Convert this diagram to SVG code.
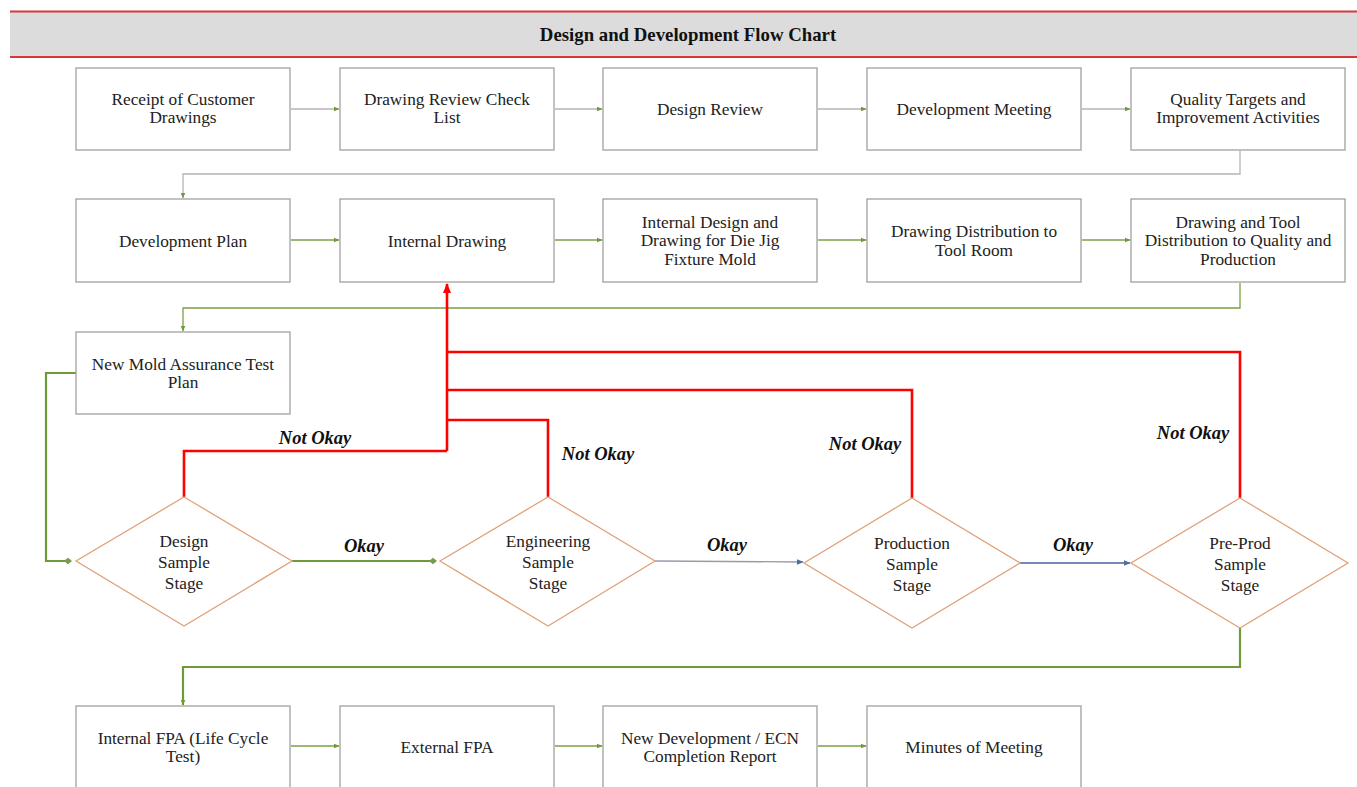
<svg xmlns="http://www.w3.org/2000/svg" width="1357" height="787" viewBox="0 0 1357 787">
  <defs>
    <marker id="arrGreen" viewBox="0 0 10 10" refX="9" refY="5" markerWidth="6" markerHeight="6" orient="auto-start-reverse" markerUnits="userSpaceOnUse">
      <path d="M0,1 L10,5 L0,9 z" fill="#6f9a3a"/>
    </marker>
    <marker id="arrBlue" viewBox="0 0 10 10" refX="9" refY="5" markerWidth="7" markerHeight="7" orient="auto" markerUnits="userSpaceOnUse">
      <path d="M0,1 L10,5 L0,9 z" fill="#4a6fa8"/>
    </marker>
    <marker id="arrRed" viewBox="0 0 10 10" refX="9" refY="5" markerWidth="10" markerHeight="10" orient="auto" markerUnits="userSpaceOnUse">
      <path d="M0,1 L10,5 L0,9 z" fill="#ff0000"/>
    </marker>
    <marker id="dotGreen" viewBox="0 0 10 10" refX="5" refY="5" markerWidth="8" markerHeight="8" orient="auto" markerUnits="userSpaceOnUse">
      <path d="M0,5 L5,1 L10,5 L5,9 z" fill="#7a9a50"/>
    </marker>
  </defs>
  <style>
    .box { fill: #ffffff; stroke: #a0a0a0; stroke-width: 1.3; }
    .dia { fill: #ffffff; stroke: #e0a27a; stroke-width: 1.3; }
    .lbl { font-family: "Liberation Serif", "Times New Roman", serif; font-size: 17.3px; fill: #222; text-anchor: middle; }
    .cond { font-family: "Liberation Serif", "Times New Roman", serif; font-size: 18.5px; font-weight: bold; font-style: italic; fill: #111; text-anchor: middle; }
    .gray { fill: none; stroke: #b4b4b4; stroke-width: 1.3; }
    .green { fill: none; stroke: #7ba046; stroke-width: 1.3; }
    .greenBold { fill: none; stroke: #6f9a3a; stroke-width: 2.2; }
    .red { fill: none; stroke: #ff0000; stroke-width: 2.6; }
  </style>

  <rect width="1357" height="787" fill="#ffffff"/>

  <!-- title band -->
  <g id="title">
    <rect x="10" y="12" width="1347" height="45" fill="#dcdcdc"/>
    <line x1="10" y1="11.5" x2="1357" y2="11.5" stroke="#d9363e" stroke-width="2"/>
    <line x1="10" y1="57" x2="1357" y2="57" stroke="#d9363e" stroke-width="2"/>
    <text x="688" y="41" font-family="Liberation Serif, 'Times New Roman', serif" font-size="18.8" font-weight="bold" fill="#111" text-anchor="middle">Design and Development Flow Chart</text>
  </g>

  <!-- connectors -->
  <g id="connectors">
    <!-- row 1 -->
    <line class="gray" x1="291" y1="109" x2="339" y2="109" marker-end="url(#arrGreen)"/>
    <line class="gray" x1="555" y1="109" x2="602" y2="109" marker-end="url(#arrGreen)"/>
    <line class="gray" x1="818" y1="109" x2="866" y2="109" marker-end="url(#arrGreen)"/>
    <line class="gray" x1="1082" y1="109" x2="1130" y2="109" marker-end="url(#arrGreen)"/>
    <polyline class="gray" points="1240,151 1240,174 183,174 183,198" marker-end="url(#arrGreen)"/>
    <!-- row 2 -->
    <line class="green" x1="291" y1="240" x2="339" y2="240" marker-end="url(#arrGreen)"/>
    <line class="green" x1="555" y1="240" x2="602" y2="240" marker-end="url(#arrGreen)"/>
    <line class="green" x1="818" y1="240" x2="866" y2="240" marker-end="url(#arrGreen)"/>
    <line class="green" x1="1082" y1="240" x2="1130" y2="240" marker-end="url(#arrGreen)"/>
    <polyline class="green" points="1240,283 1240,308 183,308 183,331" marker-end="url(#arrGreen)"/>
    <!-- test plan to design sample stage -->
    <polyline class="greenBold" points="76,373 46,373 46,561 68,561" marker-end="url(#dotGreen)"/>
    <!-- okay paths -->
    <line class="greenBold" x1="292" y1="561" x2="433" y2="561" marker-end="url(#dotGreen)"/>
    <line x1="655" y1="561" x2="803" y2="562" stroke="#9a9aa8" stroke-width="1.3" marker-end="url(#arrBlue)"/>
    <line x1="1020" y1="563" x2="1130" y2="563" stroke="#4a5fa0" stroke-width="1.3" marker-end="url(#arrBlue)"/>
    <!-- not okay paths back to internal drawing -->
    <polyline class="red" points="184,497 184,451 447,451"/>
    <polyline class="red" points="548,497 548,420 447,420"/>
    <polyline class="red" points="912,498 912,390 447,390"/>
    <polyline class="red" points="1240,498 1240,352 447,352"/>
    <line class="red" x1="447" y1="451" x2="447" y2="284" marker-end="url(#arrRed)"/>
    <!-- pre-prod to internal FPA -->
    <polyline class="greenBold" points="1240,628 1240,667 183,667 183,705" marker-end="url(#arrGreen)"/>
    <!-- row 5 -->
    <line class="green" x1="291" y1="746" x2="339" y2="746" marker-end="url(#arrGreen)"/>
    <line class="green" x1="555" y1="746" x2="602" y2="746" marker-end="url(#arrGreen)"/>
    <line class="green" x1="818" y1="746" x2="866" y2="746" marker-end="url(#arrGreen)"/>
    <!-- condition labels -->
    <text class="cond" x="315" y="444">Not Okay</text>
    <text class="cond" x="598" y="460">Not Okay</text>
    <text class="cond" x="865" y="450">Not Okay</text>
    <text class="cond" x="1193" y="439">Not Okay</text>
    <text class="cond" x="364" y="552">Okay</text>
    <text class="cond" x="727" y="551">Okay</text>
    <text class="cond" x="1073" y="551">Okay</text>
  </g>

  <!-- row 1 -->
  <g id="receipt">
    <rect class="box" x="76" y="68" width="214" height="82"/>
    <text class="lbl" x="183" y="105">Receipt of Customer</text>
    <text class="lbl" x="183" y="123">Drawings</text>
  </g>
  <g id="review-checklist">
    <rect class="box" x="340" y="68" width="214" height="82"/>
    <text class="lbl" x="447" y="105">Drawing Review Check</text>
    <text class="lbl" x="447" y="123">List</text>
  </g>
  <g id="design-review">
    <rect class="box" x="603" y="68" width="214" height="82"/>
    <text class="lbl" x="710" y="115">Design Review</text>
  </g>
  <g id="dev-meeting">
    <rect class="box" x="867" y="68" width="214" height="82"/>
    <text class="lbl" x="974" y="115">Development Meeting</text>
  </g>
  <g id="quality-targets">
    <rect class="box" x="1131" y="68" width="214" height="82"/>
    <text class="lbl" x="1238" y="105">Quality Targets and</text>
    <text class="lbl" x="1238" y="123">Improvement Activities</text>
  </g>

  <!-- row 2 -->
  <g id="dev-plan">
    <rect class="box" x="76" y="199" width="214" height="83"/>
    <text class="lbl" x="183" y="247">Development Plan</text>
  </g>
  <g id="internal-drawing">
    <rect class="box" x="340" y="199" width="214" height="83"/>
    <text class="lbl" x="447" y="247">Internal Drawing</text>
  </g>
  <g id="internal-design">
    <rect class="box" x="603" y="199" width="214" height="83"/>
    <text class="lbl" x="710" y="228">Internal Design and</text>
    <text class="lbl" x="710" y="246">Drawing for Die Jig</text>
    <text class="lbl" x="710" y="265">Fixture Mold</text>
  </g>
  <g id="distribution-toolroom">
    <rect class="box" x="867" y="199" width="214" height="83"/>
    <text class="lbl" x="974" y="237">Drawing Distribution to</text>
    <text class="lbl" x="974" y="256">Tool Room</text>
  </g>
  <g id="distribution-quality">
    <rect class="box" x="1131" y="199" width="214" height="83"/>
    <text class="lbl" x="1238" y="228">Drawing and Tool</text>
    <text class="lbl" x="1238" y="246">Distribution to Quality and</text>
    <text class="lbl" x="1238" y="265">Production</text>
  </g>

  <!-- row 3 -->
  <g id="test-plan">
    <rect class="box" x="76" y="332" width="214" height="82"/>
    <text class="lbl" x="183" y="370">New Mold Assurance Test</text>
    <text class="lbl" x="183" y="388">Plan</text>
  </g>

  <!-- decision stages -->
  <g id="design-sample">
    <polygon class="dia" points="184,497 292,561 184,626 76,561"/>
    <text class="lbl" x="184" y="547">Design</text>
    <text class="lbl" x="184" y="568">Sample</text>
    <text class="lbl" x="184" y="589">Stage</text>
  </g>
  <g id="engineering-sample">
    <polygon class="dia" points="548,497 655,561 548,626 440,561"/>
    <text class="lbl" x="548" y="547">Engineering</text>
    <text class="lbl" x="548" y="568">Sample</text>
    <text class="lbl" x="548" y="589">Stage</text>
  </g>
  <g id="production-sample">
    <polygon class="dia" points="912,498 1020,563 912,628 804,563"/>
    <text class="lbl" x="912" y="549">Production</text>
    <text class="lbl" x="912" y="570">Sample</text>
    <text class="lbl" x="912" y="591">Stage</text>
  </g>
  <g id="preprod-sample">
    <polygon class="dia" points="1240,498 1348,563 1240,628 1131,563"/>
    <text class="lbl" x="1240" y="549">Pre-Prod</text>
    <text class="lbl" x="1240" y="570">Sample</text>
    <text class="lbl" x="1240" y="591">Stage</text>
  </g>

  <!-- row 5 -->
  <g id="internal-fpa">
    <rect class="box" x="76" y="706" width="214" height="90"/>
    <text class="lbl" x="183" y="744">Internal FPA (Life Cycle</text>
    <text class="lbl" x="183" y="762">Test)</text>
  </g>
  <g id="external-fpa">
    <rect class="box" x="340" y="706" width="214" height="90"/>
    <text class="lbl" x="447" y="753">External FPA</text>
  </g>
  <g id="completion-report">
    <rect class="box" x="603" y="706" width="214" height="90"/>
    <text class="lbl" x="710" y="744">New Development / ECN</text>
    <text class="lbl" x="710" y="762">Completion Report</text>
  </g>
  <g id="minutes">
    <rect class="box" x="867" y="706" width="214" height="90"/>
    <text class="lbl" x="974" y="753">Minutes of Meeting</text>
  </g>
</svg>
